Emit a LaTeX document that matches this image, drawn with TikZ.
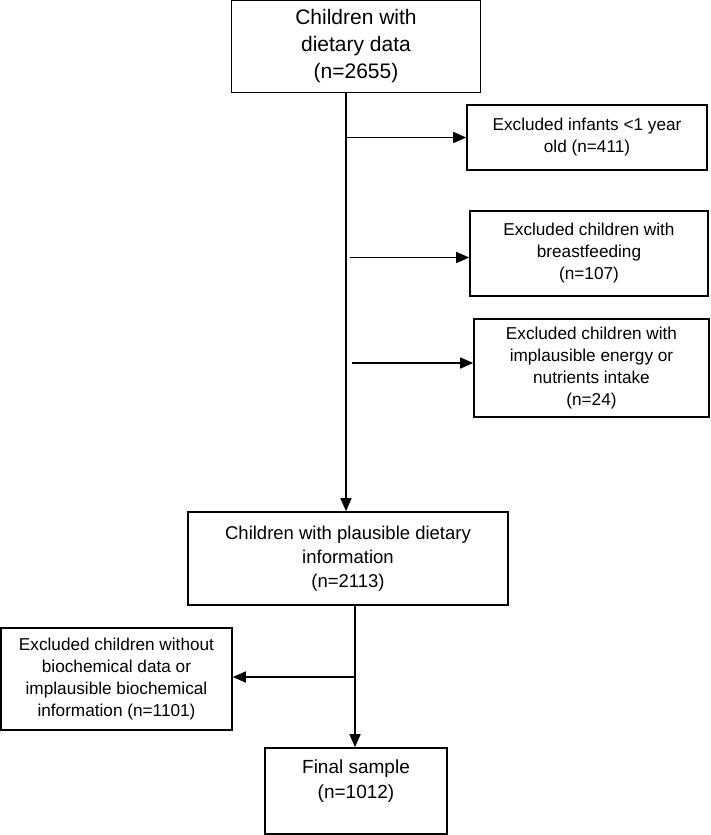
\documentclass[tikz,border=0pt]{standalone}
\usepackage{fontspec}
\setmainfont{Liberation Sans}
\usetikzlibrary{arrows.meta}
\begin{document}
\begin{tikzpicture}[x=1pt,y=-1pt,
  box/.style={draw=black, line width=1.6pt, rectangle, inner sep=0pt, align=center},
  small/.style={font=\fontsize{17.2}{22}\selectfont},
  arr/.style={line width=1.5pt, -{Triangle[length=13pt,width=11pt]}},
  conn/.style={line width=1.5pt}]
\useasboundingbox (0,0) rectangle (710,835);
\node[box, minimum width=249pt, minimum height=92pt, font=\fontsize{21}{27}\selectfont] (top) at (356,46.5) {Children with\\dietary data\\(n=2655)};
\node[box, small, minimum width=240pt, minimum height=65pt] (ex1) at (587,137.5) {Excluded infants <1 year\\old (n=411)};
\node[box, small, minimum width=238pt, minimum height=85pt] (ex2) at (589,253.5) {Excluded children with\\breastfeeding\\(n=107)};
\node[box, small, minimum width=235pt, minimum height=98pt] (ex3) at (591.5,368) {Excluded children with\\implausible energy or\\nutrients intake\\(n=24)};
\node[box, minimum width=320pt, minimum height=93pt, font=\fontsize{18.5}{24}\selectfont] (plaus) at (348,558.5) {Children with plausible dietary\\information\\(n=2113)};
\node[box, small, minimum width=231pt, minimum height=102pt] (exl) at (116.5,679) {Excluded children without\\biochemical data or\\implausible biochemical\\information (n=1101)};
\node[box, minimum width=182pt, minimum height=86pt] (fin) at (356,791) {};
\node[align=center, inner sep=0pt, font=\fontsize{19}{25}\selectfont] (fint) at (356,781) {Final sample\\(n=1012)};
\coordinate (t) at (346,92);
\draw[arr] (t) -- (t |- plaus.north);
\draw[arr] (t |- ex1.west) -- (ex1.west);
\draw[arr] (t |- ex2.west) ++(4,4) -- (ex2.west |- 0,257.5);
\draw[arr] (t |- ex3.west) ++(6,-5) -- (ex3.west |- 0,363);
\coordinate (b) at (355,605);
\draw[arr] (b) -- (b |- fin.north);
\draw[arr] (b |- exl.east) ++(0,-2) -- (exl.east |- 0,677);
\end{tikzpicture}
\end{document}
